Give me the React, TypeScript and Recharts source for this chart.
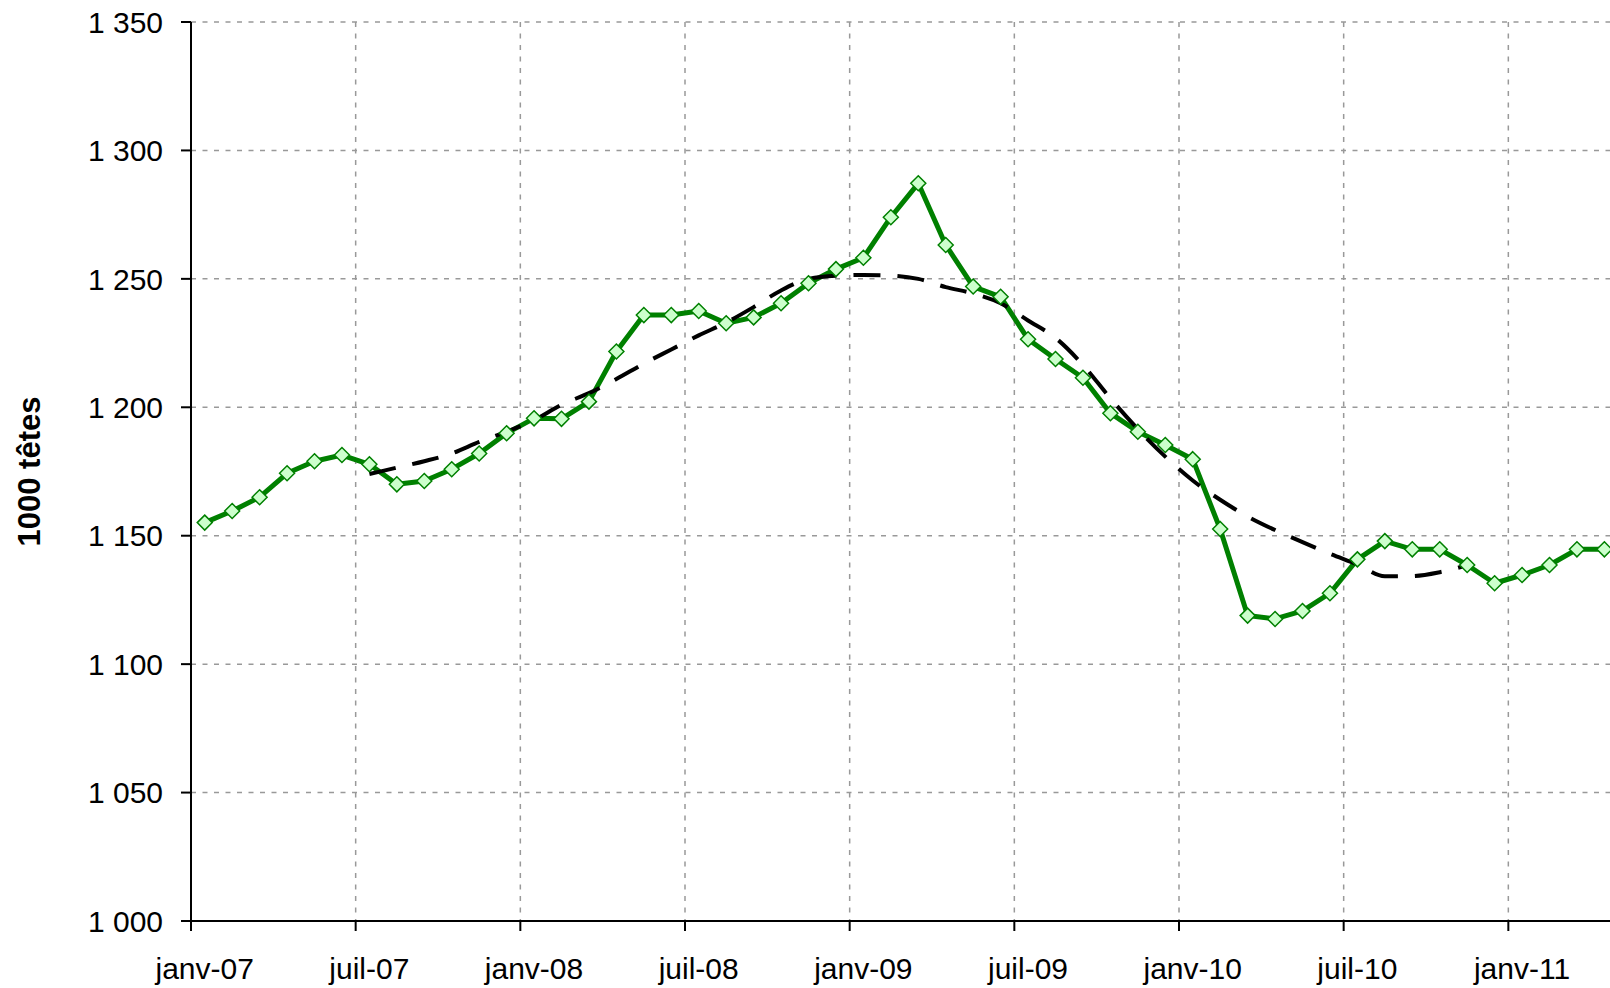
import { LineChart, Line, XAxis, YAxis, CartesianGrid, Label } from 'recharts';

// monthly values, janv-07 onwards (1000 têtes)
const CHEPTEL = [
  1155.1, 1159.6, 1165, 1174.3, 1179, 1181.4, 1177.8, 1170, 1171.3, 1175.9,
  1182, 1189.9, 1195.7, 1195.5, 1202.2, 1221.7, 1235.9, 1235.9, 1237.5, 1232.7,
  1235, 1240.5, 1248.3, 1253.8, 1258.2, 1274, 1287.2, 1263.2, 1247, 1243,
  1226.5, 1218.8, 1211.5, 1197.7, 1190.5, 1185.3, 1179.8, 1152.6, 1118.9, 1117.6,
  1120.7, 1127.6, 1140.8, 1147.9, 1144.7, 1144.7, 1138.6, 1131.5, 1134.7, 1138.6,
  1144.7, 1144.7,
];

// smoothed trend, starts at month index 6 (juil-07)
const TENDANCE_START = 6;
const TENDANCE = [
  1174, 1176.5, 1179, 1182, 1186.5, 1190.5, 1195, 1201, 1205.5, 1211,
  1217, 1222.5, 1228, 1233, 1239, 1245.5, 1250, 1251.2, 1251.5, 1251.3,
  1250, 1246.8, 1244.3, 1240.5, 1233.8, 1227, 1216.5, 1203.5, 1191.5, 1180.8,
  1171.5, 1164, 1157.5, 1152.2, 1147.5, 1143, 1138.8, 1134.2, 1134.3, 1135.8,
  1138.5,
];

const X_TICKS = [0, 6, 12, 18, 24, 30, 36, 42, 48];
const X_LABELS = ['janv-07', 'juil-07', 'janv-08', 'juil-08', 'janv-09', 'juil-09', 'janv-10', 'juil-10', 'janv-11'];
const Y_TICKS = [1000, 1050, 1100, 1150, 1200, 1250, 1300, 1350];

const data = CHEPTEL.map((v, i) => {
  const t = i - TENDANCE_START;
  return {
    x: i + 0.5,
    cheptel: v,
    tendance: t >= 0 && t < TENDANCE.length ? TENDANCE[t] : null,
  };
});

const FONT = '"Liberation Sans", Arial, sans-serif';

const fmtY = (v: number) => `${Math.floor(v / 1000)} ${String(v % 1000).padStart(3, '0')}`;

function Diamond(props: any) {
  const { cx, cy, index } = props;
  if (cx == null || cy == null) return <g key={index} />;
  const r = 7.5;
  return (
    <path
      key={index}
      d={`M${cx},${cy - r}L${cx + r},${cy}L${cx},${cy + r}L${cx - r},${cy}Z`}
      fill="#ccffcc"
      stroke="#008000"
      strokeWidth={1.5}
    />
  );
}

function YTitle(props: any) {
  const vb = props.viewBox || {};
  const cy = (vb.y ?? 22) + (vb.height ?? 899) / 2;
  return (
    <text
      x={29}
      y={cy}
      dy="0.36em"
      transform={`rotate(-90, 29, ${cy})`}
      textAnchor="middle"
      fontFamily={FONT}
      fontSize={31}
      fontWeight="bold"
      fill="#000"
    >
      1000 têtes
    </text>
  );
}

export default function App() {
  return (
    <div style={{ position: 'absolute', left: 0, top: 0, width: 1610, height: 988, overflow: 'hidden', background: '#fff' }}>
      <LineChart
        width={1680}
        height={988}
        data={data}
        margin={{ top: 22, right: 7, bottom: 7, left: 0 }}
        style={{ fontFamily: FONT }}
      >
        <CartesianGrid stroke="#999" strokeWidth={1.5} strokeDasharray="5 6.5" />
        <XAxis
          type="number"
          dataKey="x"
          domain={[0, 54]}
          ticks={X_TICKS}
          interval={0}
          tickFormatter={(v: number) => X_LABELS[v / 6] ?? ''}
          height={60}
          tickSize={10}
          tickMargin={27}
          axisLine={{ stroke: '#000', strokeWidth: 2 }}
          tickLine={{ stroke: '#000', strokeWidth: 2 }}
          tick={{ fill: '#000', fontSize: 30, fontFamily: FONT, dx: 13.7 }}
        />
        <YAxis
          type="number"
          domain={[1000, 1350]}
          ticks={Y_TICKS}
          interval={0}
          tickFormatter={fmtY}
          width={191}
          tickSize={10}
          tickMargin={18}
          axisLine={{ stroke: '#000', strokeWidth: 2 }}
          tickLine={{ stroke: '#000', strokeWidth: 2 }}
          tick={{ fill: '#000', fontSize: 30, fontFamily: FONT }}
        >
          <Label content={YTitle} />
        </YAxis>
        <Line
          dataKey="cheptel"
          type="linear"
          stroke="#008000"
          strokeWidth={5}
          strokeLinejoin="round"
          dot={false}
          activeDot={false}
          isAnimationActive={false}
        />
        <Line
          dataKey="tendance"
          type="monotone"
          stroke="#000"
          strokeWidth={4}
          strokeDasharray="27 17"
          dot={false}
          activeDot={false}
          isAnimationActive={false}
        />
        <Line
          dataKey="cheptel"
          type="linear"
          stroke="none"
          strokeWidth={0}
          dot={Diamond}
          activeDot={false}
          isAnimationActive={false}
        />
      </LineChart>
    </div>
  );
}
